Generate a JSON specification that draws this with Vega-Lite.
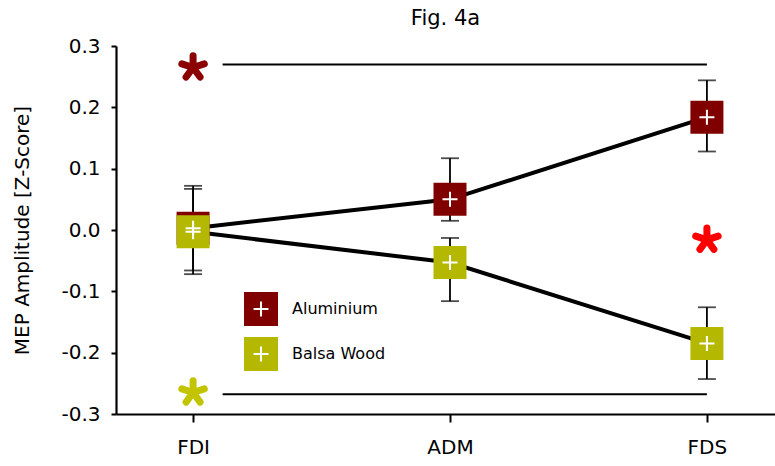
{
  "$schema": "https://vega.github.io/schema/vega-lite/v6.json",
  "width": 659,
  "height": 368,
  "autosize": {"type": "none"},
  "padding": {"left": 116, "top": 46, "right": 0, "bottom": 52},
  "background": "white",
  "config": {
    "view": {"stroke": null},
    "font": "DejaVu Sans",
    "axis": {"grid": false, "domainColor": "black", "tickColor": "black", "labelColor": "black", "titleColor": "black", "labelFont": "DejaVu Sans", "titleFont": "DejaVu Sans", "titleFontWeight": "normal"}
  },
  "title": {"text": "Fig. 4a", "fontSize": 21, "font": "DejaVu Sans", "fontWeight": "normal", "color": "black", "offset": 7, "anchor": "middle"},
  "datasets": {
    "main": [
      {"muscle": "FDI", "idx": 1, "series": "Aluminium", "mean": 0.003, "lo": -0.066, "hi": 0.072},
      {"muscle": "ADM", "idx": 2, "series": "Aluminium", "mean": 0.050, "lo": 0.015, "hi": 0.117},
      {"muscle": "FDS", "idx": 3, "series": "Aluminium", "mean": 0.184, "lo": 0.128, "hi": 0.244},
      {"muscle": "FDI", "idx": 1, "series": "Balsa Wood", "mean": -0.003, "lo": -0.072, "hi": 0.067},
      {"muscle": "ADM", "idx": 2, "series": "Balsa Wood", "mean": -0.053, "lo": -0.116, "hi": -0.013},
      {"muscle": "FDS", "idx": 3, "series": "Balsa Wood", "mean": -0.185, "lo": -0.243, "hi": -0.126}
    ],
    "sig": [
      {"start": 1.115, "end": 3.0, "y": 0.27},
      {"start": 1.115, "end": 3.0, "y": -0.268}
    ],
    "stars": [
      {"idx": 1, "y": 0.265, "kind": "Aluminium"},
      {"idx": 1, "y": -0.265, "kind": "Balsa Wood"},
      {"idx": 3, "y": -0.016, "kind": "Between"}
    ]
  },
  "layer": [
    {
      "mark": {"type": "rule", "color": "black", "strokeWidth": 2.2},
      "encoding": {"y": {"datum": 0.3, "type": "quantitative"}}
    },
    {
      "data": {"name": "sig"},
      "mark": {"type": "rule", "color": "black", "strokeWidth": 2},
      "encoding": {
        "x": {"field": "start", "type": "quantitative"},
        "x2": {"field": "end"},
        "y": {"field": "y", "type": "quantitative"}
      }
    },
    {
      "data": {"name": "main"},
      "mark": {"type": "rule", "color": "black", "strokeWidth": 1.8},
      "encoding": {
        "x": {"field": "idx", "type": "quantitative"},
        "y": {"field": "lo", "type": "quantitative"},
        "y2": {"field": "hi"}
      }
    },
    {
      "data": {"name": "main"},
      "mark": {"type": "tick", "color": "black", "orient": "horizontal", "size": 18, "thickness": 1.8},
      "encoding": {
        "x": {"field": "idx", "type": "quantitative"},
        "y": {"field": "lo", "type": "quantitative"}
      }
    },
    {
      "data": {"name": "main"},
      "mark": {"type": "tick", "color": "black", "orient": "horizontal", "size": 18, "thickness": 1.8},
      "encoding": {
        "x": {"field": "idx", "type": "quantitative"},
        "y": {"field": "hi", "type": "quantitative"}
      }
    },
    {
      "data": {"name": "main"},
      "mark": {"type": "line", "color": "black", "strokeWidth": 4},
      "encoding": {
        "x": {"field": "idx", "type": "quantitative"},
        "y": {"field": "mean", "type": "quantitative"},
        "detail": {"field": "series"},
        "order": {"field": "idx"}
      }
    },
    {
      "data": {"name": "main"},
      "mark": {"type": "point", "shape": "square", "filled": true, "opacity": 1, "size": 1089, "strokeWidth": 0},
      "encoding": {
        "x": {
          "field": "idx", "type": "quantitative",
          "scale": {"domain": [0.7, 3.265], "nice": false, "zero": false},
          "axis": {"title": null, "values": [1, 2, 3], "labelExpr": "datum.value == 1 ? 'FDI' : datum.value == 2 ? 'ADM' : 'FDS'", "labelFontSize": 20, "labelPadding": 15, "tickSize": 8, "tickWidth": 2, "domainWidth": 2.2}
        },
        "y": {
          "field": "mean", "type": "quantitative",
          "scale": {"domain": [-0.3, 0.3], "nice": false, "zero": false},
          "axis": {"title": "MEP Amplitude [Z-Score]", "titleFontSize": 20, "titleX": -94, "titleY": 184, "titleAngle": -90, "titleBaseline": "middle", "titleAnchor": "middle", "values": [-0.3, -0.2, -0.1, 0, 0.1, 0.2, 0.3], "labelExpr": "replace(format(datum.value, '.1f'), '\u2212', '-')", "labelFontSize": 20, "labelPadding": 11, "tickSize": 5, "tickWidth": 2, "domainWidth": 2.2}
        },
        "color": {
          "field": "series", "type": "nominal",
          "scale": {"domain": ["Aluminium", "Balsa Wood"], "range": ["#800000", "#b5b800"]},
          "legend": {
            "title": null, "orient": "none", "legendX": 128, "legendY": 246, "padding": 0,
            "symbolType": "M-1,-1H1V1H-1ZM-0.06,-0.44L-0.06,-0.06L-0.44,-0.06L-0.44,0.06L-0.06,0.06L-0.06,0.44L0.06,0.44L0.06,0.06L0.44,0.06L0.44,-0.06L0.06,-0.06L0.06,-0.44Z",
            "symbolSize": 1156, "symbolStrokeWidth": 0, "symbolOpacity": 1,
            "labelFontSize": 16, "labelFont": "DejaVu Sans", "labelFontWeight": 500, "labelColor": "black", "labelOffset": 14, "rowPadding": 11
          }
        }
      }
    },
    {
      "data": {"name": "main"},
      "mark": {"type": "point", "shape": "M-1,0L1,0M0,-1L0,1", "filled": false, "stroke": "white", "strokeWidth": 2, "opacity": 1, "size": 225},
      "encoding": {
        "x": {"field": "idx", "type": "quantitative"},
        "y": {"field": "mean", "type": "quantitative"}
      }
    },
    {
      "data": {"name": "stars"},
      "mark": {"type": "point", "shape": "M0,0L0,-1M0,0L0.95,-0.31M0,0L0.59,0.81M0,0L-0.59,0.81M0,0L-0.95,-0.31", "filled": false, "strokeWidth": 7, "strokeCap": "round", "opacity": 1, "size": 560},
      "encoding": {
        "x": {"field": "idx", "type": "quantitative"},
        "y": {"field": "y", "type": "quantitative"},
        "stroke": {
          "field": "kind", "type": "nominal",
          "scale": {"domain": ["Aluminium", "Balsa Wood", "Between"], "range": ["#8b0000", "#c2c400", "#ff0000"]},
          "legend": null
        }
      }
    }
  ]
}
